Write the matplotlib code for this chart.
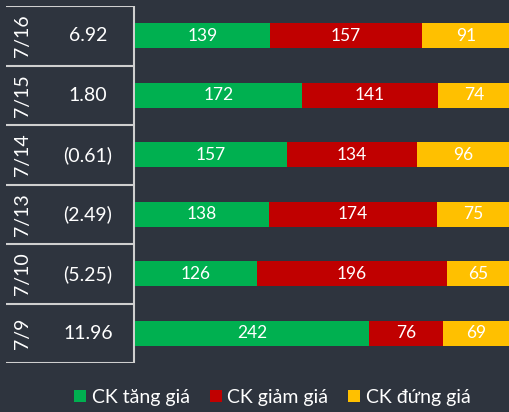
import matplotlib.pyplot as plt
from matplotlib.patches import Patch
import numpy as np

dates = ["7/16", "7/15", "7/14", "7/13", "7/10", "7/9"]
values = ["6.92", "1.80", "(0.61)", "(2.49)", "(5.25)", "11.96"]
up = [139, 172, 157, 138, 126, 242]
down = [157, 141, 134, 174, 196, 76]
flat = [91, 74, 96, 75, 65, 69]
labels = ["CK tăng giá", "CK giảm giá", "CK đứng giá"]

bg = "#2e343e"
colors = ["#00b050", "#c00000", "#ffc000"]
line_c = "#cfcfcf"
plt.rcParams['font.family'] = ['Lato', 'DejaVu Sans']

W, H = 510, 412
fig = plt.figure(figsize=(W / 100, H / 100), dpi=100, facecolor=bg)

top_px, bot_px = 6, 363
bottom = (H - bot_px) / H
height = (bot_px - top_px) / H
n = len(dates)

# left table part
tab = fig.add_axes([6 / W, bottom, (134 - 6) / W, height])
tab.set_xlim(0, 1)
tab.set_ylim(n, 0)
tab.axis("off")
for i in range(n + 1):
    tab.plot([0, 1], [i, i], color=line_c, lw=1.5, solid_capstyle="butt")
tab.plot([1, 1], [0, n], color=line_c, lw=1.5, solid_capstyle="butt", clip_on=False)
for i, (d, v) in enumerate(zip(dates, values)):
    tab.text(0.125, i + 0.5, d, rotation=90, ha="center", va="center",
             color="white", fontsize=14)
    tab.text(0.64, i + 0.5, v, ha="center", va="center", color="white", fontsize=14)

# stacked bars
ax = fig.add_axes([135 / W, bottom, (W - 135) / W, height])
ax.set_facecolor(bg)
y = np.arange(n) + 0.5
left = np.zeros(n)
for vals, c in zip([up, down, flat], colors):
    vals = np.array(vals)
    ax.barh(y, vals, left=left, height=0.42, color=c)
    for yi, l, v in zip(y, left, vals):
        ax.text(l + v / 2, yi, str(v), ha="center", va="center",
                color="white", fontsize=12.5)
    left += vals
ax.set_xlim(0, left.max())
ax.set_ylim(n, 0)
ax.axis("off")

handles = [Patch(facecolor=c, edgecolor="none") for c in colors]
leg = fig.legend(handles, labels, loc="center", bbox_to_anchor=(0.534, 0.036),
                 ncol=3, frameon=False, fontsize=14, labelcolor="white",
                 handlelength=0.62, handleheight=0.62, handletextpad=0.3,
                 columnspacing=1.0, borderpad=0.1)

fig.savefig("out.png", dpi=100, facecolor=bg)
